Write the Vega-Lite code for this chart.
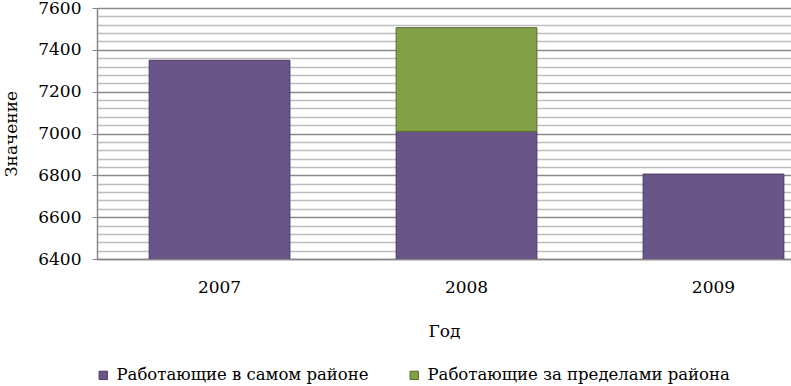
{
  "$schema": "https://vega.github.io/schema/vega-lite/v6.json",
  "width": 694,
  "height": 251,
  "autosize": {"type": "none"},
  "padding": {"left": 97, "top": 8, "right": 0, "bottom": 127},
  "background": "white",
  "config": {
    "view": {"stroke": null},
    "font": "DejaVu Serif"
  },
  "data": {
    "values": [
      {"year": "2007", "group": "Работающие в самом районе", "value": 7350},
      {"year": "2008", "group": "Работающие в самом районе", "value": 7010},
      {"year": "2008", "group": "Работающие за пределами района", "value": 496},
      {"year": "2009", "group": "Работающие в самом районе", "value": 6806}
    ]
  },
  "mark": {"type": "bar", "clip": true, "strokeWidth": 1},
  "encoding": {
    "x": {
      "field": "year",
      "type": "nominal",
      "title": "Год",
      "scale": {"paddingInner": 0.43, "paddingOuter": 0.12, "align": 0.88},
      "axis": {
        "labelAngle": 0,
        "labelFont": "DejaVu Serif",
        "labelFontSize": 17,
        "labelColor": "#000000",
        "labelPadding": 20,
        "ticks": false,
        "domainColor": "#868686",
        "domainWidth": 1.5,
        "titleFont": "DejaVu Serif",
        "titleFontSize": 17,
        "titleFontWeight": "normal",
        "titleColor": "#000000",
        "titlePadding": 28
      }
    },
    "y": {
      "field": "value",
      "type": "quantitative",
      "stack": "zero",
      "title": "Значение",
      "scale": {"domain": [6400, 7600], "zero": false, "nice": false},
      "axis": {
        "values": [6400, 6440, 6480, 6520, 6560, 6600, 6640, 6680, 6720, 6760, 6800, 6840, 6880, 6920, 6960, 7000, 7040, 7080, 7120, 7160, 7200, 7240, 7280, 7320, 7360, 7400, 7440, 7480, 7520, 7560, 7600],
        "labelExpr": "datum.value % 200 === 0 ? datum.label : ''",
        "format": "d",
        "labelFont": "DejaVu Serif",
        "labelFontSize": 17,
        "labelColor": "#000000",
        "labelPadding": 11,
        "tickSize": 5,
        "tickColor": "#868686",
        "tickOpacity": {"condition": {"test": "datum.value % 200 === 0", "value": 1}, "value": 0},
        "grid": true,
        "gridColor": {"condition": {"test": "datum.value % 200 === 0", "value": "#8a8a8a"}, "value": "#bdbdbd"},
        "gridWidth": 1.3,
        "domainColor": "#868686",
        "domainWidth": 1.5,
        "titleFont": "DejaVu Serif",
        "titleFontSize": 17,
        "titleFontWeight": "normal",
        "titleColor": "#000000",
        "titlePadding": 17
      }
    },
    "color": {
      "field": "group",
      "type": "nominal",
      "scale": {
        "domain": ["Работающие в самом районе", "Работающие за пределами района"],
        "range": ["#6a5588", "#82a046"]
      },
      "legend": {
        "title": null,
        "orient": "none",
        "legendX": -2,
        "legendY": 359,
        "direction": "horizontal",
        "symbolType": "square",
        "symbolSize": 70,
        "symbolStrokeWidth": 1,
        "labelFont": "DejaVu Serif",
        "labelFontSize": 16.5,
        "labelColor": "#000000",
        "labelOffset": 5,
        "columnPadding": 37,
        "labelLimit": 400
      }
    },
    "stroke": {
      "field": "group",
      "type": "nominal",
      "scale": {
        "domain": ["Работающие в самом районе", "Работающие за пределами района"],
        "range": ["#4a3b61", "#566b2c"]
      },
      "legend": null
    },
    "order": {"field": "group", "type": "nominal"}
  }
}
